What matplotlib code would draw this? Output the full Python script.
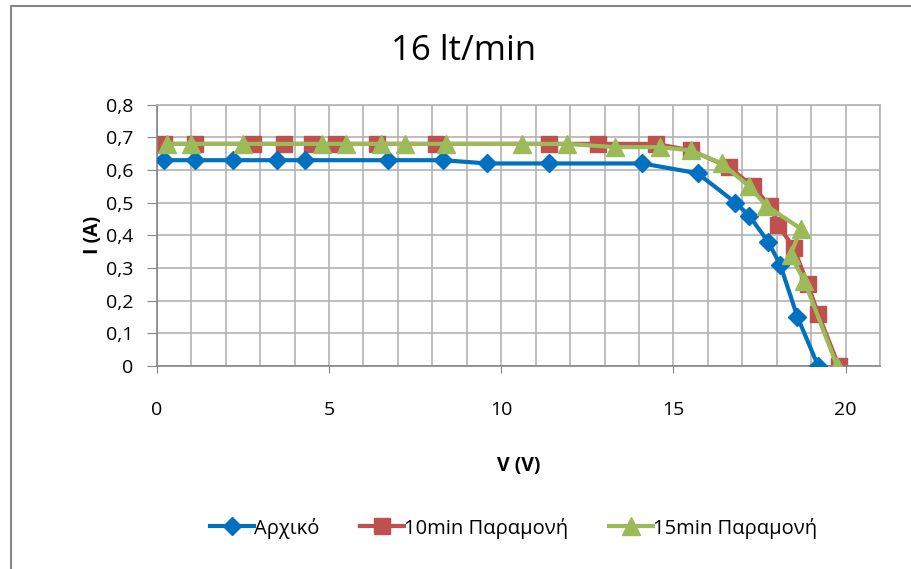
import matplotlib
matplotlib.use('Agg')
import matplotlib.pyplot as plt
from matplotlib.ticker import MultipleLocator, FuncFormatter
from matplotlib.lines import Line2D

plt.rcParams['font.family'] = ['Open Sans', 'DejaVu Sans']

# Αρχικό
v_init = [0.2, 1.1, 2.2, 3.5, 4.3, 6.7, 8.3, 9.6, 11.4, 14.1, 15.7, 16.8, 17.2, 17.75, 18.1, 18.6, 19.2]
i_init = [0.63, 0.63, 0.63, 0.63, 0.63, 0.63, 0.63, 0.62, 0.62, 0.62, 0.59, 0.50, 0.46, 0.38, 0.31, 0.15, 0.0]

# 10min Παραμονή
v_10 = [0.2, 1.1, 2.8, 3.7, 4.5, 5.2, 6.4, 8.1, 11.4, 12.8, 14.5, 15.5, 16.6, 17.3, 17.8, 18.05, 18.5, 18.9, 19.2, 19.8]
i_10 = [0.68, 0.68, 0.68, 0.68, 0.68, 0.68, 0.68, 0.68, 0.68, 0.68, 0.68, 0.66, 0.61, 0.55, 0.49, 0.43, 0.36, 0.25, 0.16, 0.0]

# 15min Παραμονή
v_15 = [0.3, 1.0, 2.5, 4.8, 5.5, 6.5, 7.2, 8.4, 10.6, 11.9, 13.3, 14.6, 15.5, 16.4, 17.2, 17.7, 18.7, 18.4, 18.8, 19.75]
i_15 = [0.68, 0.68, 0.68, 0.68, 0.68, 0.68, 0.68, 0.68, 0.68, 0.68, 0.67, 0.67, 0.66, 0.62, 0.55, 0.49, 0.42, 0.34, 0.26, 0.0]

labels = ['Αρχικό', '10min Παραμονή', '15min Παραμονή']
colors = ['#0070C0', '#C0504D', '#9BBB59']

fig = plt.figure(figsize=(9.12, 5.69), dpi=100)
ax = fig.add_axes([0.172, 0.357, 0.793, 0.459])

ax.plot(v_init, i_init, color=colors[0], lw=3, marker='D', ms=9, zorder=3)
ax.plot(v_10, i_10, color=colors[1], lw=3, marker='s', ms=12, zorder=2)
ax.plot(v_15, i_15, color=colors[2], lw=3, marker='^', ms=13, zorder=4)

ax.set_xlim(0, 21)
ax.set_ylim(0, 0.8)
ax.xaxis.set_major_locator(MultipleLocator(5))
ax.xaxis.set_minor_locator(MultipleLocator(1))
ax.yaxis.set_major_locator(MultipleLocator(0.1))
ax.grid(True, which='both', color='#B3B3B3', lw=1.2)
ax.set_axisbelow(True)
ax.yaxis.set_major_formatter(FuncFormatter(lambda y, p: '0' if abs(y) < 1e-9 else ('%.1f' % y).replace('.', ',')))
ax.tick_params(axis='x', which='major', length=5, direction='out', pad=20, labelsize=14, color='#868686')
ax.tick_params(axis='x', which='minor', length=0)
ax.tick_params(axis='y', length=7, direction='out', pad=10, labelsize=14, color='#868686')
for s in ax.spines.values():
    s.set_color('#B3B3B3')
    s.set_linewidth(1.2)
ax.spines['left'].set_color('#868686')
ax.spines['bottom'].set_color('#868686')

ax.set_xlabel('V (V)', fontsize=14, fontweight='bold', labelpad=27)
ax.set_ylabel('I (A)', fontsize=14, fontweight='bold', labelpad=2)
fig.text(0.508, 0.91, '16 lt/min', ha='center', va='center', fontsize=25)

handles = [
    Line2D([], [], color=colors[0], lw=3, marker='D', ms=9),
    Line2D([], [], color=colors[1], lw=3, marker='s', ms=12),
    Line2D([], [], color=colors[2], lw=3, marker='^', ms=13),
]
fig.legend(handles, labels, loc='center', bbox_to_anchor=(0.563, 0.072), ncol=3, frameon=False,
           fontsize=14.5, handlelength=2.2, handletextpad=0.0, columnspacing=2.0)

fig.add_artist(Line2D([0.012, 0.012, 1.0], [0.0, 0.99, 0.99], transform=fig.transFigure, color='#878787', lw=1.5))

plt.savefig('out.png', dpi=100)
